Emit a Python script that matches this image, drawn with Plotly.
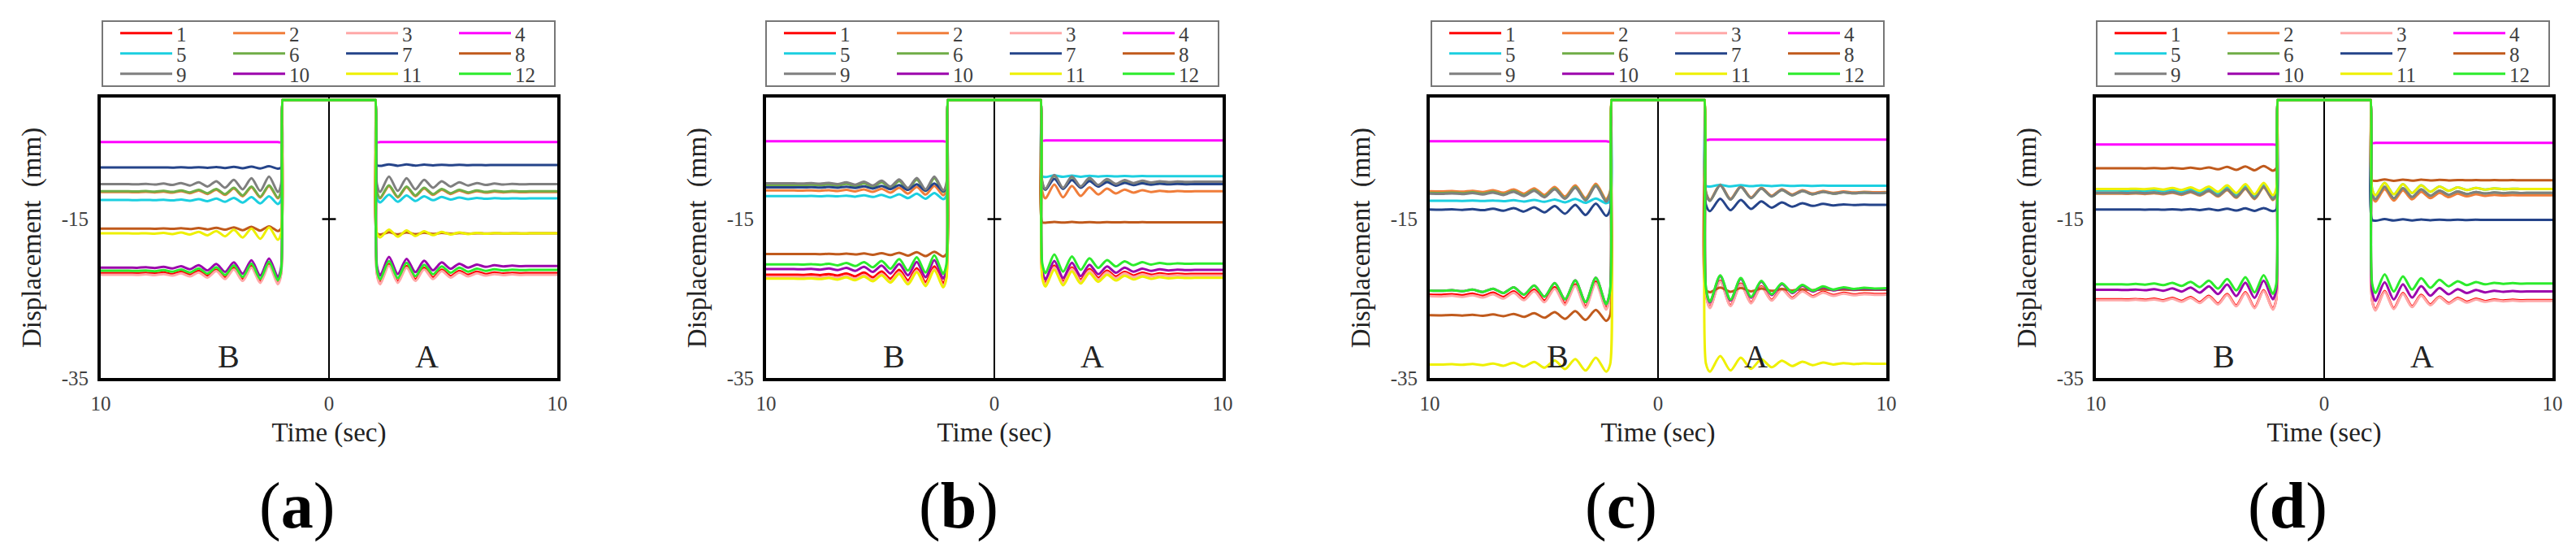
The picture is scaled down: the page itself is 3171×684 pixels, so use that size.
import plotly.graph_objects as go

W, H = 3171, 684
FONT = "Liberation Serif"

# ---------------- data ----------------
series_names = ["1", "2", "3", "4", "5", "6", "7", "8", "9", "10", "11", "12"]
series_colors = ["#FF0000", "#F07D3A", "#FFA8A8", "#FF00FF", "#1CCFE0", "#70AD47",
                 "#25448A", "#C05A1C", "#7F7F7F", "#9C06AC", "#EEF000", "#2CEB2C"]
panel_letters = ["a", "b", "c", "d"]

# steady displacement (mm) on the B side (left) and A side (right) of each panel
levels_a_B = [-21.8, -11.6, -22.0, -5.3, -12.6, -11.5, -8.5, -16.2, -10.6, -21.1, -16.8, -21.5]
levels_a_A = [-21.8, -11.6, -22.0, -5.3, -12.4, -11.5, -8.2, -16.8, -10.6, -20.9, -16.8, -21.4]
levels_b_B = [-22.0, -11.4, -22.3, -5.2, -12.1, -10.7, -11.0, -19.4, -10.5, -21.3, -22.5, -20.7]
levels_b_A = [-21.9, -11.5, -22.1, -5.1, -9.6, -10.4, -10.6, -15.4, -10.3, -21.4, -22.4, -20.6]
levels_c_B = [-24.5, -11.5, -24.7, -5.2, -12.7, -11.7, -13.8, -27.1, -11.8, -24.0, -33.3, -24.0]
levels_c_A = [-24.4, -11.6, -24.5, -5.0, -10.8, -11.7, -13.2, -23.9, -11.7, -23.8, -33.2, -23.7]
levels_d_B = [-25.1, -11.8, -25.2, -5.6, -11.4, -11.7, -13.8, -8.6, -11.7, -23.9, -11.2, -23.2]
levels_d_A = [-25.2, -12.0, -25.3, -5.4, -11.2, -11.7, -15.1, -10.1, -11.7, -24.1, -11.2, -23.1]

# oscillation amplitude (mm) next to the spike, B side and A side
amps_a_B = [1.2, 0.8, 1.2, 0.0, 0.5, 0.8, 0.15, 0.3, 1.0, 1.2, 0.8, 1.2]
amps_a_A = [1.2, 0.8, 1.2, 0.0, 0.5, 0.8, 0.1, 0.15, 1.0, 1.2, 0.5, 1.2]
amps_b_B = [1.1, 0.6, 1.1, 0.0, 0.4, 0.9, 0.5, 0.3, 0.9, 1.2, 1.1, 1.2]
amps_b_A = [1.1, 0.9, 1.1, 0.0, 0.1, 0.9, 0.7, 0.05, 0.9, 1.2, 1.1, 1.2]
amps_c_B = [1.7, 1.0, 1.7, 0.0, 0.3, 1.0, 0.8, 0.7, 1.0, 1.7, 0.9, 1.7]
amps_c_A = [1.7, 1.0, 1.7, 0.0, 0.1, 1.0, 0.8, 0.3, 1.0, 1.7, 1.0, 1.7]
amps_d_B = [1.2, 0.8, 1.2, 0.0, 0.8, 0.8, 0.2, 0.3, 0.8, 1.2, 0.8, 1.2]
amps_d_A = [1.2, 0.8, 1.2, 0.0, 0.8, 0.8, 0.1, 0.1, 0.8, 1.2, 0.8, 1.2]

periods = [0.77, 0.77, 0.9, 0.8]   # oscillation period (s) per panel
spike_edge = 2.05                  # |time| where the spike starts (s)
spike_top = 0.0                    # displacement reached inside the spike (mm)
# successive trough / peak deviations, normalised to the first trough (series 10, panel a)
wiggle_profile = [-1.0, 0.95, -0.85, 0.75, -0.65, 0.55, -0.45, 0.37, -0.3,
                  0.24, -0.18, 0.14, -0.1, 0.07, -0.05, 0.03, -0.02, 0.0]

x_range = [-10, 10]
y_range = [-35, 0.3]
x_tick_vals = [-10, 0, 10]
x_tick_text = ["10", "0", "10"]
y_tick_vals = [-35, -15]
y_tick_text = ["-35", "-15"]
center_tick_vals = [-15]

levels_B = [levels_a_B, levels_b_B, levels_c_B, levels_d_B]
levels_A = [levels_a_A, levels_b_A, levels_c_A, levels_d_A]
amps_B = [amps_a_B, amps_b_B, amps_c_B, amps_d_B]
amps_A = [amps_a_A, amps_b_A, amps_c_A, amps_d_A]

# ---------------- layout geometry (pixels) ----------------
plot_left_px = [124, 943, 1760, 2580]
plot_width_px = 562
plot_top_px = 120
plot_bottom_px = 465
legend_box_left_px = [126, 943, 1762, 2581]
legend_box_width_px = 557
legend_box_top_px = 26
legend_box_bottom_px = 106
legend_col_offsets_px = [22, 161, 300, 439]
legend_row_centers_px = [41, 66, 91]
panel_label_x_px = [365, 1180, 1995, 2816]
panel_label_y_px = 622


def side_points(level, amp, period):
    ts, vs = [], []
    for k, w in enumerate(wiggle_profile):
        t = spike_edge + period * (0.25 + 0.5 * k)
        if t >= 9.9:
            break
        ts.append(t)
        vs.append(level + amp * w)
    return ts, vs


fig = go.Figure()
legends = {}
shapes = []
annotations = []

for p in range(4):
    xa = "x" if p == 0 else f"x{p + 1}"
    ya = "y" if p == 0 else f"y{p + 1}"
    P = periods[p]
    for i in range(12):
        tb, vb = side_points(levels_B[p][i], amps_B[p][i], P)
        ta, va = side_points(levels_A[p][i], amps_A[p][i], P)
        xs = [-10] + [-t for t in reversed(tb)] + [-(spike_edge + 0.05), -(spike_edge - 0.02), -(spike_edge - 0.05),
                                                   spike_edge - 0.05, spike_edge - 0.02, spike_edge + 0.05] + ta + [10]
        ys = [levels_B[p][i]] + list(reversed(vb)) + [levels_B[p][i], spike_top, spike_top,
                                                       spike_top, spike_top, levels_A[p][i]] + va + [levels_A[p][i]]
        n = p * 12 + i + 1
        lg = "legend" if n == 1 else f"legend{n}"
        fig.add_trace(go.Scatter(
            x=xs, y=ys, mode="lines", name=series_names[i],
            line=dict(color=series_colors[i], width=3, shape="spline", smoothing=0.8),
            xaxis=xa, yaxis=ya, legend=lg, showlegend=True, hoverinfo="skip"))
        col, row = i % 4, i // 4
        lx = (legend_box_left_px[p] + legend_col_offsets_px[col] - 5) / W
        ly = 1 - legend_row_centers_px[row] / H
        legends[lg] = dict(x=lx, y=ly, xanchor="left", yanchor="middle", orientation="v",
                           bgcolor="rgba(0,0,0,0)", borderwidth=0, itemwidth=64,
                           font=dict(family=FONT, size=25, color="#404040"))

    x0 = plot_left_px[p] / W
    x1 = (plot_left_px[p] + plot_width_px) / W
    y0 = 1 - plot_bottom_px / H
    y1 = 1 - plot_top_px / H
    xkey = "xaxis" if p == 0 else f"xaxis{p + 1}"
    ykey = "yaxis" if p == 0 else f"yaxis{p + 1}"
    fig.update_layout(**{
        xkey: dict(domain=[x0, x1], anchor=ya, range=x_range, tickvals=x_tick_vals, ticktext=x_tick_text,
                   showgrid=False, zeroline=True, zerolinecolor="black", zerolinewidth=2,
                   showline=True, linecolor="black", linewidth=4, mirror=True, ticks="",
                   ticklabelstandoff=6, automargin=False,
                   tickfont=dict(family=FONT, size=25, color="#404040"),
                   title=dict(text="Time (sec)", standoff=12, font=dict(family=FONT, size=33, color="#222222"))),
        ykey: dict(domain=[y0, y1], anchor=xa, range=y_range, tickvals=y_tick_vals, ticktext=y_tick_text,
                   showgrid=False, zeroline=False, showline=True, linecolor="black", linewidth=4,
                   mirror=True, ticks="", ticklabelstandoff=6, automargin=False,
                   tickfont=dict(family=FONT, size=25, color="#404040"),
                   title=dict(text="Displacement  (mm)", standoff=16,
                              font=dict(family=FONT, size=33, color="#222222"))),
    })
    # legend frame
    shapes.append(dict(type="rect", xref="paper", yref="paper",
                       x0=legend_box_left_px[p] / W, x1=(legend_box_left_px[p] + legend_box_width_px) / W,
                       y0=1 - legend_box_bottom_px / H, y1=1 - legend_box_top_px / H,
                       line=dict(color="#777777", width=2), fillcolor="rgba(0,0,0,0)"))
    # cross tick on the centre axis
    for v in center_tick_vals:
        shapes.append(dict(type="line", xref=xa, yref=ya, x0=-0.3, x1=0.3, y0=v, y1=v,
                           line=dict(color="black", width=2.5)))
    annotations.append(dict(xref=xa, yref=ya, x=-4.4, y=-32.3, text="B", showarrow=False,
                            font=dict(family=FONT, size=40, color="#222222")))
    annotations.append(dict(xref=xa, yref=ya, x=4.3, y=-32.3, text="A", showarrow=False,
                            font=dict(family=FONT, size=40, color="#222222")))
    annotations.append(dict(xref="paper", yref="paper", x=panel_label_x_px[p] / W,
                            y=1 - panel_label_y_px / H, text=f"(<b>{panel_letters[p]}</b>)",
                            showarrow=False, xanchor="center", yanchor="middle",
                            font=dict(family=FONT, size=80, color="black")))

fig.update_layout(
    width=W, height=H, template="none",
    margin=dict(l=0, r=0, t=0, b=0),
    paper_bgcolor="white", plot_bgcolor="white",
    font=dict(family=FONT, color="#222222"),
    shapes=shapes, annotations=annotations,
    **legends,
)

fig.write_html("out.html")
